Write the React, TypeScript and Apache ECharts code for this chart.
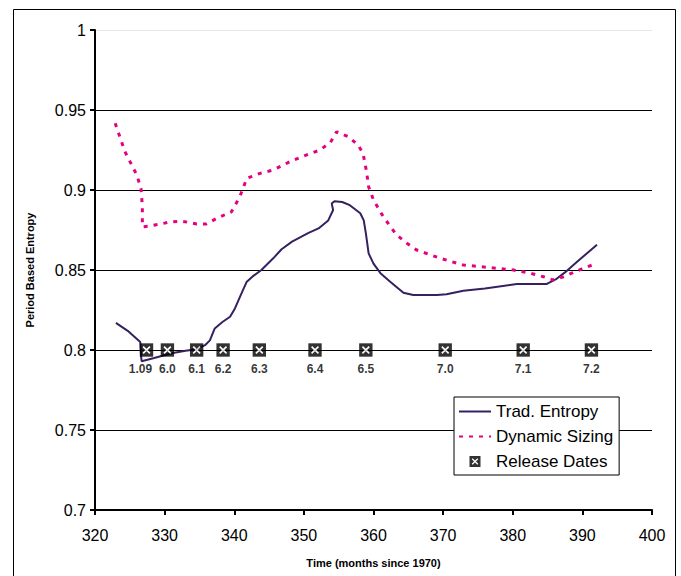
import React, { useEffect, useRef } from "react";
import * as echarts from "echarts";

const tradEntropy: [number, number][] = [
  [323.0, 0.817], [324.7, 0.812], [326.5, 0.805], [326.6, 0.797], [326.7, 0.793],
  [328.5, 0.795], [331.0, 0.798], [333.0, 0.7995], [334.6, 0.8005], [335.8, 0.803],
  [336.5, 0.806], [337.2, 0.8135], [338.3, 0.8175], [339.4, 0.8208], [340.1, 0.826],
  [340.6, 0.831], [341.2, 0.837], [341.8, 0.8427], [342.8, 0.8465], [343.9, 0.85],
  [345.6, 0.8573], [346.8, 0.863], [348.3, 0.8677], [350.6, 0.873], [352.1, 0.876],
  [353.5, 0.881], [354.2, 0.8875], [354.0, 0.8915], [354.4, 0.893], [355.5, 0.8925],
  [356.6, 0.8905], [358.1, 0.8855], [358.6, 0.881], [358.9, 0.873], [359.3, 0.8604],
  [360.0, 0.854], [361.0, 0.848], [362.4, 0.8427], [364.3, 0.8358], [365.7, 0.8344],
  [369.1, 0.8344], [370.5, 0.8348], [372.9, 0.837], [376.0, 0.8385], [380.6, 0.8413],
  [384.9, 0.8413], [386.3, 0.8445], [387.5, 0.8485], [389.2, 0.855], [392.1, 0.8658],
];

const dynamicSizing: [number, number][] = [
  [322.9, 0.9417], [324.3, 0.924], [326.0, 0.9094], [326.6, 0.901], [326.8, 0.89],
  [326.8, 0.877], [327.9, 0.8775], [330.8, 0.88], [332.5, 0.8805], [334.6, 0.8788],
  [336.0, 0.8788], [337.5, 0.8823], [339.6, 0.8864], [340.8, 0.8958], [341.8, 0.9073],
  [343.7, 0.9104], [345.6, 0.9125], [348.0, 0.9177], [350.4, 0.9219], [352.3, 0.925],
  [353.8, 0.9296], [354.7, 0.9364], [356.4, 0.9333], [357.8, 0.928], [358.5, 0.9229],
  [359.0, 0.9115], [359.3, 0.902], [360.0, 0.8938], [361.4, 0.8833], [363.3, 0.872],
  [364.8, 0.8667], [366.2, 0.8625], [369.6, 0.8573], [372.9, 0.8531], [376.3, 0.8517],
  [380.1, 0.85], [382.5, 0.848], [384.4, 0.8458], [385.8, 0.8438], [387.3, 0.8458],
  [390.1, 0.851], [392.1, 0.8542],
];

const releaseLabels = ["1.09", "6.0", "6.1", "6.2", "6.3", "6.4", "6.5", "7.0", "7.1", "7.2"];
const releaseMonths = [327.4, 330.4, 334.6, 338.4, 343.6, 351.6, 358.9, 370.3, 381.5, 391.3];
const releaseLevel = 0.8;

const FONT = "'Liberation Sans', Arial, sans-serif";

const markerSvg =
  '<svg xmlns="http://www.w3.org/2000/svg" width="14" height="14" viewBox="0 0 14 14">' +
  '<rect x="1.5" y="1.5" width="11" height="11" fill="#000"/>' +
  '<path d="M4.2 4.2L9.8 9.8M9.8 4.2L4.2 9.8" stroke="#fff" stroke-width="1.3"/></svg>';
const markerSymbol = "image://data:image/svg+xml;charset=utf-8," + encodeURIComponent(markerSvg);

export default function App() {
  const ref = useRef<HTMLDivElement>(null);
  useEffect(() => {
    if (!ref.current) return;
    const chart = echarts.init(ref.current, undefined, { renderer: "svg" });
    const releaseData = releaseMonths.map((m, i) => ({
      name: releaseLabels[i],
      value: [m, releaseLevel],
      label: i === 0 ? { offset: [-6, 0] } : undefined,
    }));
    chart.setOption({
      animation: false,
      backgroundColor: "#fff",
      textStyle: { fontFamily: FONT },
      graphic: [
        {
          type: "rect",
          shape: { x: 13.5, y: 9.5, width: 662, height: 620 },
          style: { fill: "none", stroke: "#000", lineWidth: 1 },
          silent: true,
          z: -1,
        },
      ],
      grid: { left: 95, right: 29, top: 30, bottom: 66 },
      legend: {
        orient: "vertical",
        left: 454,
        top: 397,
        padding: [6, 6, 5, 4],
        itemWidth: 32,
        itemHeight: 14,
        itemGap: 8,
        borderColor: "#000",
        borderWidth: 1,
        backgroundColor: "#fff",
        textStyle: { fontSize: 17, color: "#000", fontFamily: FONT },
        data: [
          { name: "Trad. Entropy", itemStyle: { opacity: 0 } },
          { name: "Dynamic Sizing", itemStyle: { opacity: 0 } },
          { name: "Release Dates", icon: markerSymbol },
        ],
      },
      xAxis: {
        type: "value",
        min: 320,
        max: 400,
        interval: 10,
        name: "Time (months since 1970)",
        nameLocation: "middle",
        nameGap: 47,
        nameTextStyle: { fontSize: 11, fontWeight: "bold", color: "#000", fontFamily: FONT },
        axisLine: { show: true, lineStyle: { color: "#000", width: 2 } },
        axisTick: { show: true, length: 5, lineStyle: { color: "#000", width: 2 } },
        axisLabel: { fontSize: 16, color: "#000", margin: 17, fontFamily: FONT },
        splitLine: { show: false },
      },
      yAxis: {
        type: "value",
        min: 0.7,
        max: 1,
        interval: 0.05,
        name: "Period Based Entropy",
        nameLocation: "middle",
        nameGap: 60,
        nameTextStyle: { fontSize: 11, fontWeight: "bold", color: "#000", fontFamily: FONT },
        axisLine: { show: true, lineStyle: { color: "#000", width: 2 } },
        axisTick: { show: true, length: 5, lineStyle: { color: "#000", width: 2 } },
        axisLabel: {
          fontSize: 16,
          color: "#000",
          margin: 9,
          fontFamily: FONT,
          formatter: (v: number) => String(Math.round(v * 100) / 100),
        },
        splitLine: {
          show: true,
          lineStyle: {
            color: ["#000", "#000", "#000", "#000", "#000", "#000", "#e8e8e8"],
            width: 1,
          },
        },
      },
      series: [
        {
          name: "Trad. Entropy",
          type: "line",
          data: tradEntropy,
          showSymbol: false,
          symbol: "none",
          lineStyle: { color: "#36205f", width: 2 },
          itemStyle: { color: "#36205f" },
          z: 3,
        },
        {
          name: "Dynamic Sizing",
          type: "line",
          data: dynamicSizing,
          showSymbol: false,
          symbol: "none",
          lineStyle: { color: "#e6007e", width: 3, type: [4, 6] },
          itemStyle: { color: "#e6007e" },
          z: 3,
        },
        {
          name: "Release Dates",
          type: "scatter",
          data: releaseData,
          symbol: markerSymbol,
          symbolSize: 17,
          symbolKeepAspect: true,
          itemStyle: { color: "#000" },
          label: {
            show: true,
            position: "bottom",
            distance: 4,
            formatter: "{b}",
            fontSize: 12,
            fontWeight: "bold",
            color: "#000",
            fontFamily: FONT,
          },
          z: 4,
        },
      ],
    });
    return () => chart.dispose();
  }, []);
  return (
    <div
      ref={ref}
      style={{ position: "fixed", left: 0, top: 0, width: 681, height: 576, background: "#fff" }}
    />
  );
}
